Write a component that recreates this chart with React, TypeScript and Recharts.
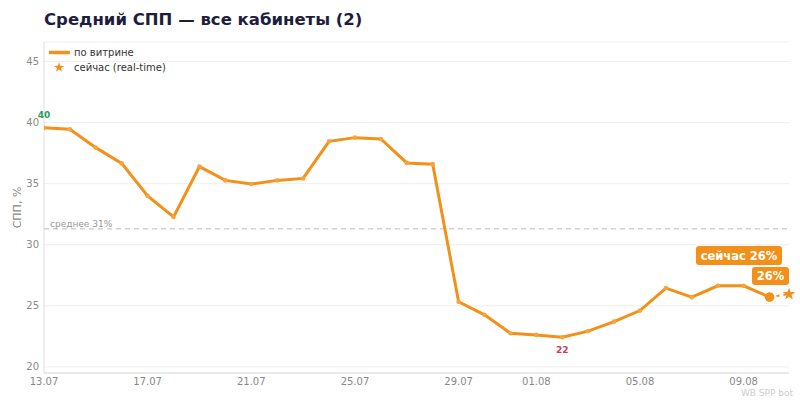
import React from 'react';
import { LineChart, Line, XAxis, YAxis, CartesianGrid, ReferenceLine, ReferenceDot, LabelList } from 'recharts';

const dates = [
  '13.07', '14.07', '15.07', '16.07', '17.07', '18.07', '19.07', '20.07', '21.07', '22.07',
  '23.07', '24.07', '25.07', '26.07', '27.07', '28.07', '29.07', '30.07', '31.07', '01.08',
  '02.08', '03.08', '04.08', '05.08', '06.08', '07.08', '08.08', '09.08', '10.08',
];
const sppValues = [
  39.57, 39.45, 37.95, 36.66, 34.0, 32.27, 36.4, 35.27, 34.97, 35.27,
  35.43, 38.47, 38.77, 38.66, 36.7, 36.6, 25.33, 24.26, 22.76, 22.62,
  22.43, 22.93, 23.71, 24.61, 26.45, 25.71, 26.64, 26.64, 25.71,
];
const tickDates = ['13.07', '17.07', '21.07', '25.07', '29.07', '01.08', '05.08', '09.08'];
const yTicks = [20, 25, 30, 35, 40, 45];
const realtimeValue = 25.96;
const realtimeDay = 28.75; // days since 13.07 ("now")
const meanValue = 31.3;

const ORANGE = '#F39019';
const FONT = '"DejaVu Sans", Verdana, sans-serif';

function starPath(cx: number, cy: number, R: number, r: number) {
  const pts: string[] = [];
  for (let i = 0; i < 10; i++) {
    const rad = i % 2 === 0 ? R : r;
    const a = -Math.PI / 2 + (i * Math.PI) / 5;
    pts.push(`${(cx + rad * Math.cos(a)).toFixed(2)},${(cy + rad * Math.sin(a)).toFixed(2)}`);
  }
  return 'M' + pts.join('L') + 'Z';
}

export default function App() {
  const data = dates.map((d, i) => ({ day: i, date: d, spp: sppValues[i] }));
  const lastIdx = sppValues.length - 1;
  const connector = [
    { day: lastIdx, rt: sppValues[lastIdx] },
    { day: realtimeDay, rt: realtimeValue },
  ];
  const maxIdx = sppValues.indexOf(Math.max(...sppValues));
  const minIdx = sppValues.indexOf(Math.min(...sppValues));
  const tickPositions = tickDates.map((t) => dates.indexOf(t));
  const rtLabel = `${Math.round(realtimeValue)}%`;

  const renderDot = (p: any) => {
    const { cx, cy, index } = p;
    if (cx == null || cy == null) return <g key={`d${index}`} />;
    if (index === lastIdx) {
      return <circle key={`d${index}`} cx={cx} cy={cy} r={4.8} fill={ORANGE} stroke="none" />;
    }
    return <circle key={`d${index}`} cx={cx} cy={cy} r={2.3} fill="#F6A440" stroke="none" />;
  };

  const renderExtremes = (p: any) => {
    const { x, y, value, index } = p;
    if (index === maxIdx) {
      return (
        <text x={x} y={y - 13} textAnchor="middle" dominantBaseline="central" fontSize={9} fontWeight="bold" fill="#2e9b63" fontFamily={FONT}>
          {Math.round(value)}
        </text>
      );
    }
    if (index === minIdx) {
      return (
        <text x={x} y={y + 12.5} textAnchor="middle" dominantBaseline="central" fontSize={9} fontWeight="bold" fill="#c8405e" fontFamily={FONT}>
          {Math.round(value)}
        </text>
      );
    }
    return null;
  };

  const renderStar = (p: any) => {
    const { cx, cy } = p;
    return (
      <g>
        <path d={starPath(cx, cy, 6.6, 2.7)} fill={ORANGE} />
        <rect x={cx - 93} y={cy - 48} width={86} height={19} rx={3} fill={ORANGE} />
        <text x={cx - 50} y={cy - 38.3} textAnchor="middle" dominantBaseline="central" fill="#fff" fontSize={11.5} fontWeight="bold" fontFamily={FONT}>
          {`сейчас ${rtLabel}`}
        </text>
        <rect x={cx - 37} y={cy - 27} width={37} height={18} rx={3} fill={ORANGE} />
        <text x={cx - 18.5} y={cy - 17.8} textAnchor="middle" dominantBaseline="central" fill="#fff" fontSize={11.5} fontWeight="bold" fontFamily={FONT}>
          {rtLabel}
        </text>
      </g>
    );
  };

  const renderMeanLabel = (p: any) => {
    const vb = p.viewBox || {};
    return (
      <text x={(vb.x || 0) + 6} y={(vb.y || 0) - 2} fontSize={9} fill="#999" fontFamily={FONT}>
        {`среднее ${Math.round(meanValue)}%`}
      </text>
    );
  };

  const renderYLabel = (p: any) => {
    const vb = p.viewBox || {};
    const x = 17;
    const y = (vb.y || 0) + (vb.height || 0) / 2;
    return (
      <text x={x} y={y} transform={`rotate(-90 ${x} ${y})`} textAnchor="middle" dominantBaseline="central" fontSize={11} fill="#888" fontFamily={FONT}>
        СПП, %
      </text>
    );
  };

  return (
    <div style={{ position: 'absolute', left: 0, top: 0, width: 800, height: 400, background: '#fff', fontFamily: FONT }}>
      <LineChart width={800} height={400} margin={{ top: 42, right: 11, bottom: 0, left: 0 }} style={{ fontFamily: FONT }}>
        <CartesianGrid vertical={false} stroke="#eeeeee" />
        <XAxis
          type="number"
          dataKey="day"
          domain={[0, realtimeDay]}
          allowDataOverflow
          ticks={tickPositions}
          tickFormatter={(v: number) => dates[v]}
          height={27}
          stroke="#dddddd"
          tickLine={false}
          tickSize={3}
          tickMargin={2}
          tick={{ fontSize: 10, fill: '#888' }}
        />
        <YAxis
          type="number"
          domain={[19.5, 46.6]}
          allowDataOverflow
          ticks={yTicks}
          width={44}
          stroke="#dddddd"
          tickLine={false}
          tickSize={3}
          tickMargin={2}
          tick={{ fontSize: 10, fill: '#888' }}
          label={{ content: renderYLabel }}
        />
        <ReferenceLine y={meanValue} stroke="#bbbbbb" strokeDasharray="5 4" strokeWidth={1} label={{ content: renderMeanLabel }} />
        <Line
          data={data}
          dataKey="spp"
          type="linear"
          stroke={ORANGE}
          strokeWidth={3}
          dot={renderDot}
          activeDot={false}
          isAnimationActive={false}
        >
          <LabelList dataKey="spp" content={renderExtremes} />
        </Line>
        <Line
          data={connector}
          dataKey="rt"
          type="linear"
          stroke={ORANGE}
          strokeWidth={2}
          strokeDasharray="3 4"
          dot={false}
          activeDot={false}
          isAnimationActive={false}
        />
        <ReferenceDot x={realtimeDay} y={realtimeValue} r={6} shape={renderStar} ifOverflow="visible" />
      </LineChart>
      <svg width={800} height={400} style={{ position: 'absolute', left: 0, top: 0, pointerEvents: 'none' }}>
        <text x={44} y={25} fontSize={16.5} fontWeight="bold" fill="#1e1d3c" fontFamily={FONT}>
          Средний СПП — все кабинеты (2)
        </text>
        <line x1={49} y1={52.5} x2={70} y2={52.5} stroke={ORANGE} strokeWidth={3.5} />
        <text x={74} y={52.5} fontSize={10} fill="#333" dominantBaseline="central" fontFamily={FONT}>по витрине</text>
        <path d={starPath(59, 67.5, 5.2, 2.1)} fill={ORANGE} />
        <text x={74} y={67.5} fontSize={10} fill="#333" dominantBaseline="central" fontFamily={FONT}>сейчас (real-time)</text>
        <text x={793} y={396} fontSize={9} fill="#cccccc" textAnchor="end" fontFamily={FONT}>WB SPP bot</text>
      </svg>
    </div>
  );
}
